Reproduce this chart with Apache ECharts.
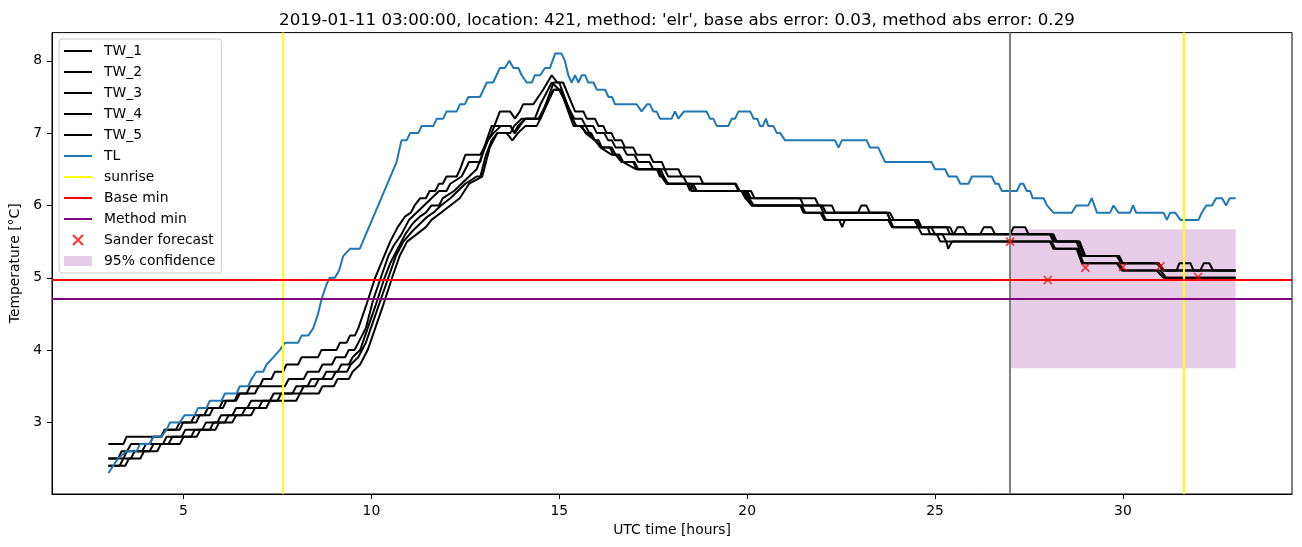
<!DOCTYPE html>
<html>
<head>
<meta charset="utf-8">
<script src="https://cdn.jsdelivr.net/npm/echarts@6/dist/echarts.min.js"></script>
<style>
html,body{margin:0;padding:0;background:#fff;}
#chart{width:1302px;height:547px;}
</style>
</head>
<body>
<div id="chart"></div>
<script>
// ---------------- data ----------------
const titleText = "2019-01-11 03:00:00, location: 421, method: 'elr', base abs error: 0.03, method abs error: 0.29";
const xTicks = [5, 10, 15, 20, 25, 30];
const yTicks = [3, 4, 5, 6, 7, 8];

const tw1 = [[3.0,2.7],[3.4,2.7],[3.48,2.8],[4.41,2.8],[4.5,2.9],[4.9,2.9],[4.99,3.0],[5.34,3.0],[5.43,3.1],[5.7,3.1],[5.79,3.2],[6.05,3.2],[6.14,3.3],[6.36,3.3],[6.45,3.4],[6.68,3.4],[6.77,3.5],[7.03,3.5],[7.12,3.6],[7.34,3.6],[7.43,3.7],[7.65,3.7],[7.74,3.8],[8.05,3.8],[8.14,3.9],[8.58,3.9],[8.67,4.0],[9.07,4.0],[9.16,4.1],[9.34,4.1],[9.43,4.2],[9.56,4.2],[9.65,4.3],[9.85,4.6],[10.1,5.0],[10.3,5.25],[10.5,5.5],[10.7,5.7],[10.9,5.85],[11.05,5.9],[11.15,6.0],[11.3,6.1],[11.45,6.1],[11.55,6.2],[11.7,6.2],[11.8,6.3],[11.9,6.3],[12.0,6.4],[12.27,6.4],[12.36,6.5],[12.5,6.7],[12.9,6.7],[13.2,7.0],[13.42,7.3],[13.69,7.3],[13.82,7.2],[13.95,7.3],[14.04,7.4],[14.31,7.4],[14.44,7.5],[14.57,7.6],[14.8,7.8],[14.95,7.7],[15.1,7.7],[15.42,7.3],[15.64,7.3],[15.73,7.2],[15.95,7.2],[16.04,7.1],[16.17,7.1],[16.26,7.0],[16.39,7.0],[16.48,6.9],[16.66,6.9],[16.75,6.8],[16.97,6.8],[17.06,6.7],[17.41,6.7],[17.5,6.6],[17.73,6.6],[17.81,6.5],[18.17,6.5],[18.26,6.4],[18.74,6.4],[18.83,6.3],[19.68,6.3],[19.77,6.2],[20.1,6.2],[20.2,6.1],[21.41,6.1],[21.5,6.0],[21.94,6.0],[22.03,5.9],[22.95,5.9],[23.04,6.0],[23.17,6.0],[23.26,5.9],[23.72,5.9],[23.81,5.8],[24.51,5.8],[24.6,5.7],[25.31,5.7],[25.4,5.6],[25.5,5.6],[25.6,5.7],[25.75,5.7],[25.85,5.6],[26.2,5.6],[26.3,5.7],[26.5,5.7],[26.6,5.6],[27.0,5.6],[27.09,5.7],[27.4,5.7],[27.49,5.6],[28.06,5.6],[28.15,5.5],[28.77,5.5],[28.91,5.3],[29.84,5.3],[29.97,5.2],[30.9,5.2],[31.08,5.1],[31.43,5.1],[31.5,5.2],[31.8,5.2],[31.88,5.1],[32.06,5.1],[32.15,5.2],[32.3,5.2],[32.4,5.1],[33.0,5.1]];

const tw2 = [[3.0,2.5],[3.26,2.5],[3.35,2.6],[3.5,2.6],[3.6,2.7],[4.1,2.7],[4.19,2.8],[4.4,2.8],[4.5,2.9],[4.8,2.9],[4.9,3.0],[5.2,3.0],[5.3,3.1],[5.55,3.1],[5.65,3.2],[5.95,3.2],[6.05,3.3],[6.4,3.3],[6.5,3.4],[6.9,3.4],[7.0,3.5],[7.7,3.5],[7.8,3.6],[8.2,3.6],[8.3,3.7],[8.6,3.7],[8.7,3.8],[8.95,3.8],[9.05,3.9],[9.3,3.9],[9.4,4.0],[9.55,4.0],[9.65,4.1],[9.85,4.3],[10.05,4.7],[10.25,5.0],[10.45,5.3],[10.6,5.45],[10.8,5.6],[11.0,5.8],[11.1,5.85],[11.2,5.9],[11.4,6.0],[11.6,6.1],[11.8,6.2],[12.0,6.2],[12.1,6.3],[12.4,6.4],[12.5,6.5],[12.6,6.6],[12.9,6.6],[13.0,6.8],[13.2,7.1],[13.7,7.1],[13.82,7.0],[13.95,7.1],[14.1,7.2],[14.35,7.2],[14.5,7.4],[14.8,7.7],[15.0,7.6],[15.1,7.5],[15.4,7.2],[15.6,7.2],[15.7,7.1],[15.9,7.1],[16.0,7.0],[16.2,7.0],[16.3,6.9],[16.4,6.9],[16.5,6.8],[16.7,6.8],[16.8,6.7],[17.0,6.7],[17.1,6.6],[17.4,6.6],[17.5,6.5],[17.8,6.5],[17.9,6.4],[18.3,6.4],[18.4,6.3],[19.7,6.3],[19.8,6.2],[20.0,6.2],[20.1,6.1],[21.81,6.1],[21.9,6.0],[22.25,6.0],[22.34,5.9],[23.72,5.9],[23.81,5.8],[24.55,5.8],[24.64,5.7],[25.4,5.7],[25.49,5.6],[28.15,5.6],[28.24,5.5],[28.82,5.5],[28.96,5.3],[29.9,5.3],[30.0,5.2],[30.95,5.2],[31.1,5.1],[33.0,5.1]];

const tw3 = [[3.0,2.5],[3.4,2.5],[3.49,2.6],[3.9,2.6],[4.0,2.7],[4.45,2.7],[4.55,2.8],[4.95,2.8],[5.05,2.9],[5.5,2.9],[5.6,3.0],[5.9,3.0],[6.0,3.1],[6.3,3.1],[6.4,3.2],[6.7,3.2],[6.8,3.3],[7.3,3.3],[7.4,3.4],[7.9,3.4],[8.0,3.5],[8.3,3.5],[8.4,3.6],[8.7,3.6],[8.8,3.7],[9.1,3.7],[9.2,3.8],[9.4,3.8],[9.5,3.9],[9.7,4.0],[9.9,4.3],[10.1,4.6],[10.35,5.0],[10.5,5.2],[10.7,5.4],[10.9,5.6],[11.1,5.75],[11.3,5.85],[11.45,5.9],[11.6,6.0],[11.8,6.0],[11.9,6.1],[12.2,6.2],[12.4,6.3],[12.6,6.4],[12.8,6.5],[12.95,6.7],[13.1,6.9],[13.25,7.0],[13.45,7.1],[13.7,7.1],[13.8,7.0],[13.9,7.1],[14.1,7.2],[14.45,7.2],[14.85,7.6],[15.05,7.6],[15.35,7.2],[15.45,7.1],[15.55,7.1],[15.73,7.0],[15.85,7.0],[15.95,6.9],[16.05,6.9],[16.13,6.8],[16.35,6.8],[16.44,6.7],[16.58,6.7],[16.66,6.6],[16.97,6.6],[17.06,6.5],[17.6,6.5],[17.68,6.4],[17.78,6.4],[17.86,6.3],[18.4,6.3],[18.48,6.2],[18.56,6.3],[18.6,6.3],[18.66,6.2],[19.9,6.2],[20.0,6.1],[20.12,6.0],[21.41,6.0],[21.5,5.9],[22.0,5.9],[22.1,5.8],[22.45,5.8],[22.53,5.7],[22.6,5.8],[23.8,5.8],[23.89,5.7],[24.8,5.7],[24.87,5.6],[25.05,5.6],[25.14,5.5],[28.06,5.5],[28.15,5.4],[28.77,5.4],[28.91,5.2],[29.84,5.2],[29.97,5.1],[30.9,5.1],[31.08,5.0],[33.0,5.0]];

const tw4 = [[3.0,2.4],[3.3,2.4],[3.4,2.5],[3.6,2.5],[3.7,2.6],[4.1,2.6],[4.2,2.7],[4.6,2.7],[4.7,2.8],[5.2,2.8],[5.3,2.9],[5.7,2.9],[5.8,3.0],[6.1,3.0],[6.2,3.1],[6.55,3.1],[6.65,3.2],[7.0,3.2],[7.1,3.3],[7.5,3.3],[7.6,3.4],[8.1,3.4],[8.2,3.5],[8.5,3.5],[8.6,3.6],[8.95,3.6],[9.05,3.7],[9.35,3.7],[9.45,3.8],[9.65,3.9],[9.85,4.1],[10.05,4.4],[10.25,4.7],[10.45,5.0],[10.65,5.3],[10.85,5.5],[11.1,5.65],[11.3,5.75],[11.5,5.85],[11.65,5.9],[11.85,6.0],[12.1,6.1],[12.3,6.2],[12.5,6.3],[12.8,6.4],[12.9,6.4],[13.05,6.7],[13.2,6.9],[13.35,7.0],[13.6,7.0],[13.75,6.9],[13.9,7.0],[14.1,7.1],[14.4,7.1],[14.5,7.2],[14.85,7.6],[15.0,7.6],[15.1,7.5],[15.38,7.1],[15.6,7.1],[15.7,7.0],[15.95,6.9],[16.1,6.8],[16.4,6.7],[16.6,6.7],[16.7,6.6],[17.05,6.5],[17.65,6.5],[17.72,6.4],[17.85,6.3],[18.45,6.3],[18.52,6.2],[19.95,6.2],[20.05,6.1],[20.18,6.0],[21.45,6.0],[21.55,5.9],[21.95,5.9],[22.05,5.8],[23.75,5.8],[23.85,5.7],[24.55,5.7],[24.65,5.6],[25.2,5.6],[25.3,5.5],[25.35,5.4],[25.45,5.5],[28.1,5.5],[28.2,5.4],[28.8,5.4],[28.95,5.2],[29.9,5.2],[30.0,5.1],[31.0,5.1],[31.15,5.0],[33.0,5.0]];

const tw5 = [[3.0,2.4],[3.45,2.4],[3.55,2.5],[3.85,2.5],[3.95,2.6],[4.3,2.6],[4.4,2.7],[4.9,2.7],[5.0,2.8],[5.35,2.8],[5.45,2.9],[5.85,2.9],[5.95,3.0],[6.3,3.0],[6.4,3.1],[6.8,3.1],[6.9,3.2],[7.2,3.2],[7.3,3.3],[8.0,3.3],[8.1,3.4],[8.6,3.4],[8.7,3.5],[9.0,3.5],[9.1,3.6],[9.4,3.6],[9.5,3.7],[9.7,3.8],[9.9,4.0],[10.1,4.3],[10.3,4.6],[10.55,5.0],[10.75,5.3],[10.95,5.5],[11.2,5.6],[11.45,5.7],[11.6,5.8],[11.85,5.9],[12.1,6.0],[12.35,6.1],[12.6,6.3],[12.95,6.4],[13.05,6.6],[13.15,6.8],[13.35,7.0],[13.7,7.0],[13.8,7.1],[14.0,7.2],[14.5,7.2],[14.85,7.7],[15.0,7.7],[15.35,7.2],[15.45,7.1],[15.7,7.1],[15.8,7.0],[15.95,6.9],[16.15,6.8],[16.4,6.8],[16.5,6.7],[16.66,6.6],[17.0,6.6],[17.1,6.5],[17.7,6.5],[17.78,6.4],[17.9,6.3],[18.5,6.3],[18.6,6.2],[19.85,6.2],[19.95,6.1],[20.12,6.0],[22.0,6.0],[22.1,5.9],[23.8,5.9],[23.9,5.8],[24.45,5.8],[24.55,5.7],[24.9,5.7],[25.0,5.6],[28.1,5.6],[28.2,5.5],[28.85,5.5],[29.0,5.3],[29.85,5.3],[29.95,5.2],[30.95,5.2],[31.1,5.1],[33.0,5.1]];

const tl = [[3.0,2.3],[3.13,2.4],[3.26,2.5],[3.48,2.6],[3.75,2.6],[3.84,2.7],[4.10,2.7],[4.19,2.8],[4.41,2.8],[4.55,2.9],[4.64,3.0],[4.90,3.0],[5.03,3.1],[5.30,3.1],[5.39,3.2],[5.61,3.2],[5.70,3.3],[6.01,3.3],[6.10,3.4],[6.41,3.4],[6.50,3.5],[6.72,3.5],[6.81,3.6],[6.94,3.7],[7.12,3.7],[7.21,3.8],[7.39,3.9],[7.56,4.0],[7.70,4.1],[8.05,4.1],[8.14,4.2],[8.32,4.2],[8.45,4.3],[8.58,4.5],[8.67,4.7],[8.80,4.9],[8.89,5.0],[9.03,5.0],[9.14,5.1],[9.25,5.3],[9.43,5.4],[9.69,5.4],[10.67,6.6],[10.80,6.9],[10.94,6.9],[11.03,7.0],[11.25,7.0],[11.34,7.1],[11.65,7.1],[11.74,7.2],[11.91,7.2],[12.00,7.3],[12.27,7.3],[12.36,7.4],[12.49,7.4],[12.58,7.5],[12.89,7.5],[13.07,7.7],[13.24,7.7],[13.42,7.9],[13.55,7.9],[13.67,8.0],[13.78,7.9],[13.91,7.9],[14.00,7.8],[14.13,7.7],[14.27,7.7],[14.35,7.8],[14.49,7.8],[14.62,7.9],[14.75,7.9],[14.89,8.1],[15.06,8.1],[15.15,8.0],[15.24,7.8],[15.33,7.7],[15.42,7.8],[15.51,7.7],[15.60,7.8],[15.69,7.8],[15.77,7.7],[15.91,7.7],[16.00,7.6],[16.22,7.6],[16.31,7.5],[16.40,7.5],[16.48,7.4],[17.06,7.4],[17.19,7.3],[17.34,7.4],[17.41,7.4],[17.50,7.3],[17.59,7.3],[17.68,7.2],[17.99,7.2],[18.08,7.3],[18.17,7.2],[18.32,7.3],[18.92,7.3],[19.01,7.2],[19.10,7.2],[19.19,7.1],[19.50,7.1],[19.59,7.2],[19.68,7.2],[19.77,7.3],[20.08,7.3],[20.17,7.2],[20.27,7.2],[20.34,7.1],[20.42,7.1],[20.50,7.2],[20.56,7.1],[20.70,7.1],[20.79,7.0],[20.88,7.0],[21.01,6.9],[22.34,6.9],[22.43,6.8],[22.52,6.9],[23.18,6.9],[23.27,6.8],[23.49,6.8],[23.58,6.7],[23.67,6.6],[24.91,6.6],[25.00,6.5],[25.27,6.5],[25.36,6.4],[25.58,6.4],[25.67,6.3],[25.89,6.3],[25.98,6.4],[26.51,6.4],[26.60,6.3],[26.69,6.3],[26.78,6.2],[27.18,6.2],[27.27,6.3],[27.35,6.3],[27.44,6.2],[27.53,6.2],[27.60,6.1],[27.89,6.1],[27.98,6.0],[28.15,5.9],[28.64,5.9],[28.76,6.0],[29.08,6.0],[29.17,6.1],[29.31,5.9],[29.66,5.9],[29.75,6.0],[29.88,5.9],[30.19,5.9],[30.27,6.0],[30.35,5.9],[31.08,5.9],[31.17,5.8],[31.26,5.9],[31.39,5.9],[31.53,5.8],[32.01,5.8],[32.10,5.9],[32.22,6.0],[32.37,6.0],[32.48,6.1],[32.64,6.1],[32.75,6.0],[32.84,6.1],[33.0,6.1]];

const sunriseHours = [7.635, 31.63];
const forecastStart = 27;
const baseMin = 4.97;
const methodMin = 4.71;
const sanderHours = [27, 28, 29, 30, 31, 32];
const sanderValues = [5.5, 4.97, 5.14, 5.15, 5.16, 5.01];
const confStart = 27, confEnd = 33, confLow = 3.75, confHigh = 5.67;

// ---------------- chart ----------------
const FONT = "DejaVu Sans";
const chart = echarts.init(document.getElementById('chart'), null, {renderer: 'canvas'});

const twSeries = [tw1, tw2, tw3, tw4, tw5].map((d, i) => ({
  name: 'TW_' + (i + 1), type: 'line', data: d, symbol: 'none', showSymbol: false,
  color: '#000000', lineStyle: {color: '#000000', width: 2}, z: 3, silent: true
}));

const xSym = 'path://M0,0L10,10M10,0L0,10';
const lineIcon = 'path://M0,0H28V2H0Z';
const lineItem = n => ({name: n, icon: lineIcon});

const option = {
  animation: false,
  backgroundColor: '#ffffff',
  title: {
    text: titleText, left: 672, top: 7, textAlign: 'center',
    textStyle: {fontFamily: FONT, fontSize: 16.7, fontWeight: 'normal', color: '#000'}
  },
  grid: {left: 52, right: 10, top: 32.6, bottom: 53, show: true, borderColor: '#000', borderWidth: 1, backgroundColor: 'transparent', containLabel: false},
  legend: {
    orient: 'vertical', left: 59, top: 39,
    padding: [5, 6, 5, 5], itemWidth: 28, itemHeight: 10, itemGap: 7,
    backgroundColor: 'rgba(255,255,255,0.8)', borderColor: '#cccccc', borderWidth: 1, borderRadius: 3,
    textStyle: {fontFamily: FONT, fontSize: 13.9, color: '#000', lineHeight: 14, padding: [0, 0, 0, 7]},
    data: [lineItem('TW_1'), lineItem('TW_2'), lineItem('TW_3'), lineItem('TW_4'), lineItem('TW_5'), lineItem('TL'),
           lineItem('sunrise'), lineItem('Base min'), lineItem('Method min'), 'Sander forecast',
           {name: '95% confidence', icon: 'rect'}]
  },
  xAxis: {
    type: 'value', min: 1.5, max: 34.5,
    name: 'UTC time [hours]', nameLocation: 'middle', nameGap: 28,
    nameTextStyle: {fontFamily: FONT, fontSize: 13.9, color: '#000'},
    axisLine: {show: true, onZero: false, lineStyle: {color: '#000', width: 1}},
    axisTick: {show: true, length: 5, lineStyle: {color: '#000', width: 1}, customValues: xTicks},
    axisLabel: {fontFamily: FONT, fontSize: 13.9, color: '#000', margin: 10, customValues: xTicks},
    splitLine: {show: false}
  },
  yAxis: {
    type: 'value', min: 2.01, max: 8.39,
    name: 'Temperature [°C]', nameLocation: 'middle', nameGap: 27, nameRotate: 90,
    nameTextStyle: {fontFamily: FONT, fontSize: 13.9, color: '#000'},
    axisLine: {show: true, onZero: false, lineStyle: {color: '#000', width: 1}},
    axisTick: {show: true, length: 5, lineStyle: {color: '#000', width: 1}, customValues: yTicks},
    axisLabel: {fontFamily: FONT, fontSize: 13.9, color: '#000', margin: 10, customValues: yTicks},
    splitLine: {show: false}
  },
  series: [
    {
      name: '95% confidence', type: 'custom', z: 1, silent: true,
      itemStyle: {color: 'rgba(128,0,128,0.2)'},
      data: [[confStart, confEnd, confLow, confHigh]],
      renderItem: function (params, api) {
        const p0 = api.coord([api.value(0), api.value(3)]);
        const p1 = api.coord([api.value(1), api.value(2)]);
        return {type: 'rect', shape: {x: p0[0], y: p0[1], width: p1[0] - p0[0], height: p1[1] - p0[1]},
                style: {fill: 'rgba(128,0,128,0.2)'}};
      }
    },
    ...twSeries,
    {name: 'TL', type: 'line', data: tl, symbol: 'none', showSymbol: false, color: '#1f77b4',
     lineStyle: {color: '#1f77b4', width: 2}, z: 3, silent: true},
    {name: 'sunrise', type: 'line', data: [], symbol: 'none', color: '#ffff00', lineStyle: {color: '#ffff00', width: 2}, z: 4,
     markLine: {silent: true, symbol: ['none', 'none'], label: {show: false}, animation: false,
                lineStyle: {color: '#ffff00', width: 2, type: 'solid'},
                data: sunriseHours.map(h => ({xAxis: h}))}},
    {name: 'forecast start', type: 'line', data: [], symbol: 'none', color: '#808080', z: 4,
     markLine: {silent: true, symbol: ['none', 'none'], label: {show: false}, animation: false,
                lineStyle: {color: '#808080', width: 2, type: 'solid'},
                data: [{xAxis: forecastStart}]}},
    {name: 'Base min', type: 'line', data: [], symbol: 'none', color: '#ff0000', lineStyle: {color: '#ff0000', width: 2}, z: 4,
     markLine: {silent: true, symbol: ['none', 'none'], label: {show: false}, animation: false,
                lineStyle: {color: '#ff0000', width: 2, type: 'solid'},
                data: [{yAxis: baseMin}]}},
    {name: 'Method min', type: 'line', data: [], symbol: 'none', color: '#800080', lineStyle: {color: '#800080', width: 2}, z: 4,
     markLine: {silent: true, symbol: ['none', 'none'], label: {show: false}, animation: false,
                lineStyle: {color: '#800080', width: 2, type: 'solid'},
                data: [{yAxis: methodMin}]}},
    {name: 'Sander forecast', type: 'scatter', z: 5, silent: true,
     data: sanderHours.map((h, i) => [h, sanderValues[i]]),
     symbol: xSym, symbolSize: 8,
     itemStyle: {color: 'rgba(0,0,0,0)', borderColor: '#ff0000', borderWidth: 1.5}}
  ]
};
chart.setOption(option);
</script>
</body>
</html>
